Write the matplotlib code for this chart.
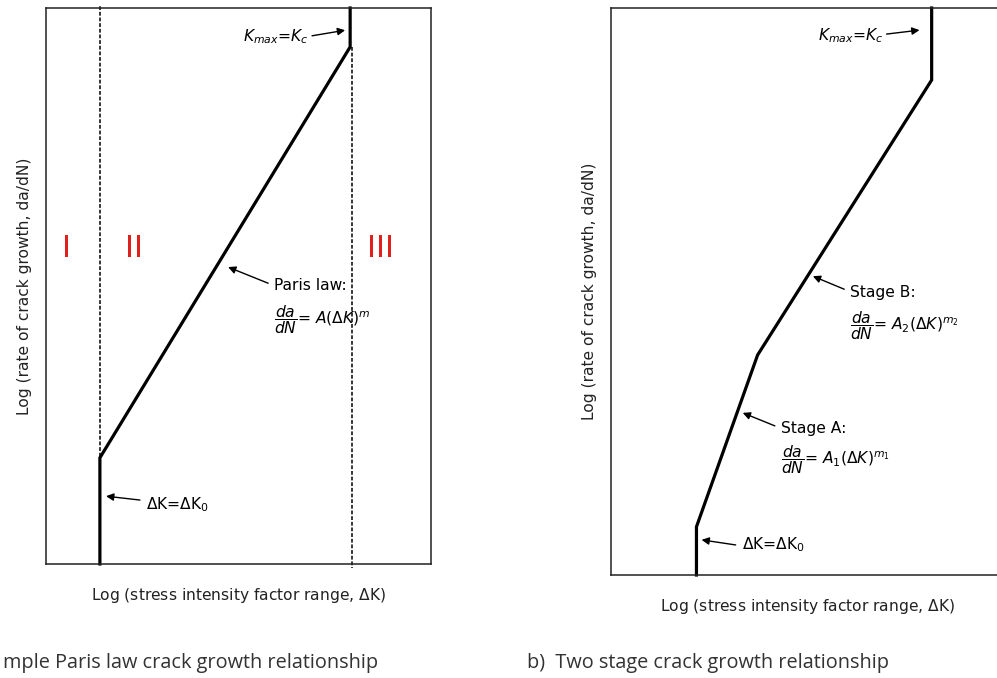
import matplotlib
matplotlib.use("Agg")
import matplotlib.pyplot as plt

# schematic curves, axes run 0..10 in both directions (log scales, no ticks)
paris_x = [1.4, 1.4, 7.9, 7.9]
paris_y = [0.0, 1.91, 9.30, 10.0]
threshold_x = 1.4
fracture_x = 7.95
fracture_y0 = 9.30

two_stage_x = [2.18, 2.18, 3.74, 8.18, 8.18]
two_stage_y = [0.0, 0.85, 3.88, 8.73, 10.0]

region_labels = ["I", "II", "III"]
region_x = [0.52, 2.29, 8.68]
region_y = 5.68

ylabel = "Log (rate of crack growth, da/dN)"
xlabel = "Log (stress intensity factor range, $\\mathit{\\Delta}$K)"
# the reference image is cropped on the left, only this much of caption a) shows
caption_a = "mple Paris law crack growth relationship"
caption_b = "b)  Two stage crack growth relationship"

plt.rcParams["mathtext.fontset"] = "dejavusans"
LW = 2.3
TXT = 11.2

fig = plt.figure(figsize=(9.97, 6.78), dpi=100)
ax1 = fig.add_axes([46 / 997, 114 / 678, 385 / 997, 556 / 678])
ax2 = fig.add_axes([611 / 997, 103 / 678, 392 / 997, 567 / 678])

for ax in (ax1, ax2):
    ax.set_xlim(0, 10)
    ax.set_ylim(0, 10)
    ax.set_xticks([])
    ax.set_yticks([])
    for s in ax.spines.values():
        s.set_linewidth(1.1)
        s.set_color("#222222")
    ax.set_xlabel(xlabel, fontsize=TXT, color="#222222", labelpad=16)
    ax.set_ylabel(ylabel, fontsize=TXT, color="#222222", labelpad=10)

arrow = dict(arrowstyle="-|>", color="black", lw=1.0, mutation_scale=11,
             shrinkA=0, shrinkB=0)
frac = "$\\dfrac{\\mathit{da}}{\\mathit{dN}}$"

# --- a) simple Paris law ---
ax1.plot(paris_x, paris_y, color="black", lw=LW, solid_joinstyle="miter", clip_on=False)
ax1.plot([threshold_x, threshold_x], [0, 10.04], color="black", lw=1.1,
         ls=(0, (2.5, 1.2)), clip_on=False, zorder=1)
ax1.plot([fracture_x, fracture_x], [fracture_y0, -0.07], color="black", lw=1.1,
         ls=(0, (2.5, 1.2)), clip_on=False, zorder=1)
for lab, x in zip(region_labels, region_x):
    ax1.text(x, region_y, lab, color="#e0201c", fontsize=22, ha="center", va="center")

ax1.annotate("", xy=(7.77, 9.60), xytext=(6.91, 9.50), arrowprops=arrow)
ax1.text(6.82, 9.49, "$\\mathit{K_{max}}$=$\\mathit{K_c}$", fontsize=TXT, ha="right", va="center")
ax1.annotate("", xy=(4.73, 5.34), xytext=(5.77, 5.05), arrowprops=arrow)
ax1.text(5.92, 5.0, "Paris law:", fontsize=TXT, ha="left", va="center")
ax1.text(5.92, 4.40, frac + "= $\\mathit{A(\\Delta K)^m}$",
         fontsize=TXT, ha="left", va="center")
ax1.annotate("", xy=(1.56, 1.22), xytext=(2.44, 1.15), arrowprops=arrow)
ax1.text(2.60, 1.06, "$\\mathit{\\Delta}$K=$\\mathit{\\Delta}$K$_0$", fontsize=TXT, ha="left", va="center")

# --- b) two stage ---
ax2.plot(two_stage_x, two_stage_y, color="black", lw=LW, solid_joinstyle="miter", clip_on=False)
ax2.spines["right"].set_visible(False)

ax2.annotate("", xy=(7.87, 9.61), xytext=(7.03, 9.54), arrowprops=arrow)
ax2.text(6.94, 9.52, "$\\mathit{K_{max}}$=$\\mathit{K_c}$", fontsize=TXT, ha="right", va="center")
ax2.annotate("", xy=(5.15, 5.27), xytext=(5.95, 5.04), arrowprops=arrow)
ax2.text(6.10, 4.99, "Stage B:", fontsize=TXT, ha="left", va="center")
ax2.text(6.10, 4.40, frac + "= $\\mathit{A_2(\\Delta K)^{m_2}}$",
         fontsize=TXT, ha="left", va="center")
ax2.annotate("", xy=(3.36, 2.86), xytext=(4.18, 2.63), arrowprops=arrow)
ax2.text(4.33, 2.59, "Stage A:", fontsize=TXT, ha="left", va="center")
ax2.text(4.33, 2.04, frac + "= $\\mathit{A_1(\\Delta K)^{m_1}}$",
         fontsize=TXT, ha="left", va="center")
ax2.annotate("", xy=(2.31, 0.62), xytext=(3.18, 0.53), arrowprops=arrow)
ax2.text(3.33, 0.53, "$\\mathit{\\Delta}$K=$\\mathit{\\Delta}$K$_0$", fontsize=TXT, ha="left", va="center")

# captions
fig.text(3 / 997, 15 / 678, caption_a, fontsize=14.3, color="#333333",
         ha="left", va="center", fontfamily="Open Sans")
fig.text(527 / 997, 15 / 678, caption_b, fontsize=14.3, color="#333333",
         ha="left", va="center", fontfamily="Open Sans")

fig.savefig("out.png", dpi=100)
